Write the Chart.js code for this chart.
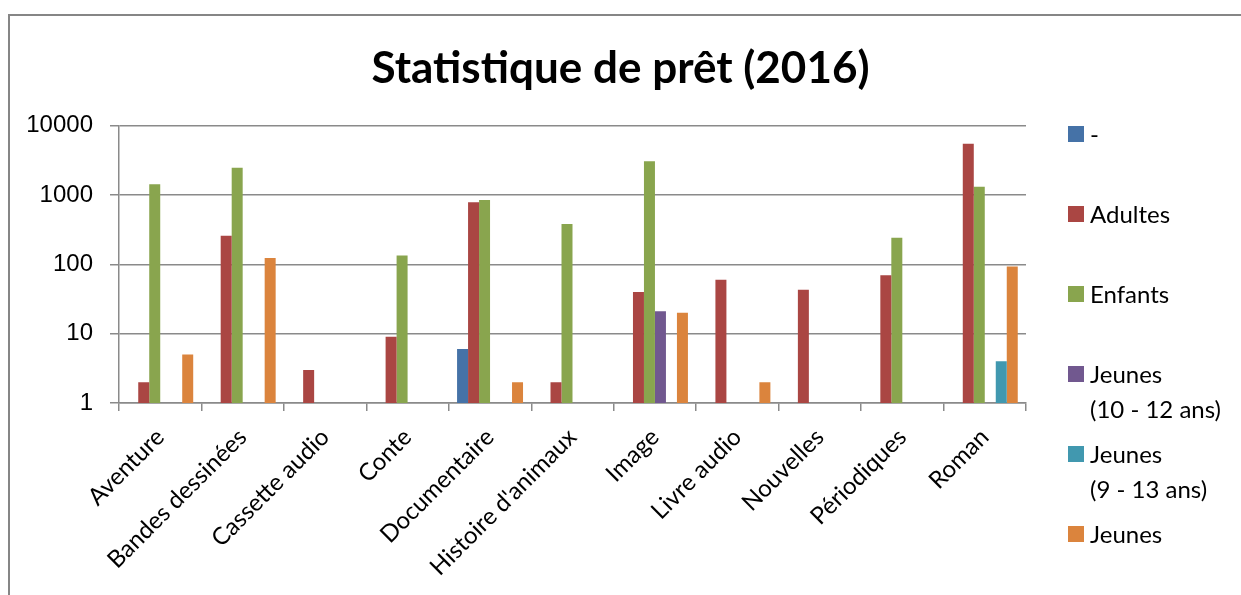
<!DOCTYPE html>
<html>
<head>
<meta charset="utf-8">
<script src="https://cdn.jsdelivr.net/npm/chart.js@4"></script>
<style>
    html, body { margin: 0; padding: 0; background: #fff; }
    #wrap { width: 1241px; height: 595px; }
</style>
</head>
<body>
<div id="wrap"><canvas id="chartPret" width="1241" height="595"></canvas></div>
<script>
const categories = ['Aventure', 'Bandes dessinées', 'Cassette audio', 'Conte', 'Documentaire',
    "Histoire d'animaux", 'Image', 'Livre audio', 'Nouvelles', 'Périodiques', 'Roman'];

const seriesNames = [['-'], ['Adultes'], ['Enfants'], ['Jeunes', '(10 - 12 ans)'], ['Jeunes', '(9 - 13 ans)'], ['Jeunes']];

const tiret = [null, null, null, null, 6, null, null, null, null, null, null];
const adultes = [2, 260, 3, 9, 790, 2, 40, 60, 43, 70, 5500];
const enfants = [1430, 2480, null, 134, 850, 383, 3070, null, null, 243, 1320];
const jeunes1012 = [null, null, null, null, null, null, 21, null, null, null, null];
const jeunes913 = [null, null, null, null, null, null, null, null, null, null, 4];
const jeunes = [5, 124, null, null, 2, null, 20, 2, null, null, 93];

const yTicks = [1, 10, 100, 1000, 10000];

const COLORS = ['#4572A7', '#AA4643', '#89A54E', '#71588F', '#4198AF', '#DB843D'];
const GRID = '#8a8a8a';

const allSeries = [tiret, adultes, enfants, jeunes1012, jeunes913, jeunes];

const datasets = allSeries.map((values, i) => ({
    label: seriesNames[i].join(' '),
    data: values,
    backgroundColor: COLORS[i],
    borderWidth: 0,
    categoryPercentage: 0.8,
    barPercentage: 1.0
}));

// legend + outer frame drawn by hand, Excel style
const excelLook = {
    id: 'excelLook',
    beforeDraw(chart) {
        const ctx = chart.ctx;
        ctx.save();
        ctx.strokeStyle = '#868686';
        ctx.lineWidth = 2;
        ctx.beginPath();
        ctx.moveTo(9, 600);
        ctx.lineTo(9, 15);
        ctx.lineTo(1250, 15);
        ctx.stroke();
        ctx.restore();
    },
    afterDraw(chart) {
        const ctx = chart.ctx;
        ctx.save();
        ctx.font = '24px Lato';
        ctx.textBaseline = 'middle';
        chart.data.datasets.forEach((ds, i) => {
            const cy = 134 + i * 80;
            ctx.fillStyle = ds.backgroundColor;
            ctx.fillRect(1068, cy - 8, 16, 16);
            ctx.fillStyle = '#000';
            seriesNames[i].forEach((line, j) => {
                ctx.fillText(line, 1090, cy + 1 + j * 35);
            });
        });
        ctx.restore();
    }
};

const config = {
    type: 'bar',
    data: {
        labels: categories,
        datasets: datasets
    },
    options: {
        responsive: false,
        animation: false,
        layout: {
            padding: { left: 0, right: 0, top: 0, bottom: 0 }
        },
        plugins: {
            legend: { display: false },
            tooltip: { enabled: false },
            title: {
                display: true,
                text: 'Statistique de prêt (2016)',
                color: '#000',
                font: { family: 'Lato', size: 44, weight: 'bold', lineHeight: 1.2 },
                padding: { top: 42, bottom: 31 }
            }
        },
        scales: {
            x: {
                offset: true,
                grid: {
                    offset: true,
                    drawOnChartArea: false,
                    drawTicks: true,
                    tickLength: 8,
                    color: GRID,
                    lineWidth: 1.5
                },
                border: { color: GRID, width: 1.5 },
                ticks: {
                    color: '#000',
                    font: { family: 'Lato', size: 24 },
                    maxRotation: 45,
                    minRotation: 45,
                    autoSkip: false,
                    padding: 12
                },
                afterFit(scale) {
                    scale.height = 192;
                }
            },
            y: {
                type: 'logarithmic',
                min: 1,
                max: 10000,
                afterBuildTicks(scale) {
                    scale.ticks = yTicks.map(v => ({ value: v }));
                },
                grid: {
                    color: GRID,
                    lineWidth: 1.5,
                    tickLength: 9
                },
                border: { color: GRID, width: 1.5 },
                ticks: {
                    color: '#000',
                    font: { family: 'Liberation Sans', size: 24 },
                    padding: 17,
                    callback: v => String(v)
                },
                afterFit(scale) {
                    scale.width = 119;
                }
            },
            yRight: {
                position: 'right',
                display: true,
                grid: { display: false },
                border: { display: false },
                ticks: { display: false },
                afterFit(scale) {
                    scale.width = 215;
                }
            }
        }
    },
    plugins: [excelLook]
};

let ctx = document.getElementById('chartPret').getContext('2d');
new Chart(ctx, config);
</script>
</body>
</html>
